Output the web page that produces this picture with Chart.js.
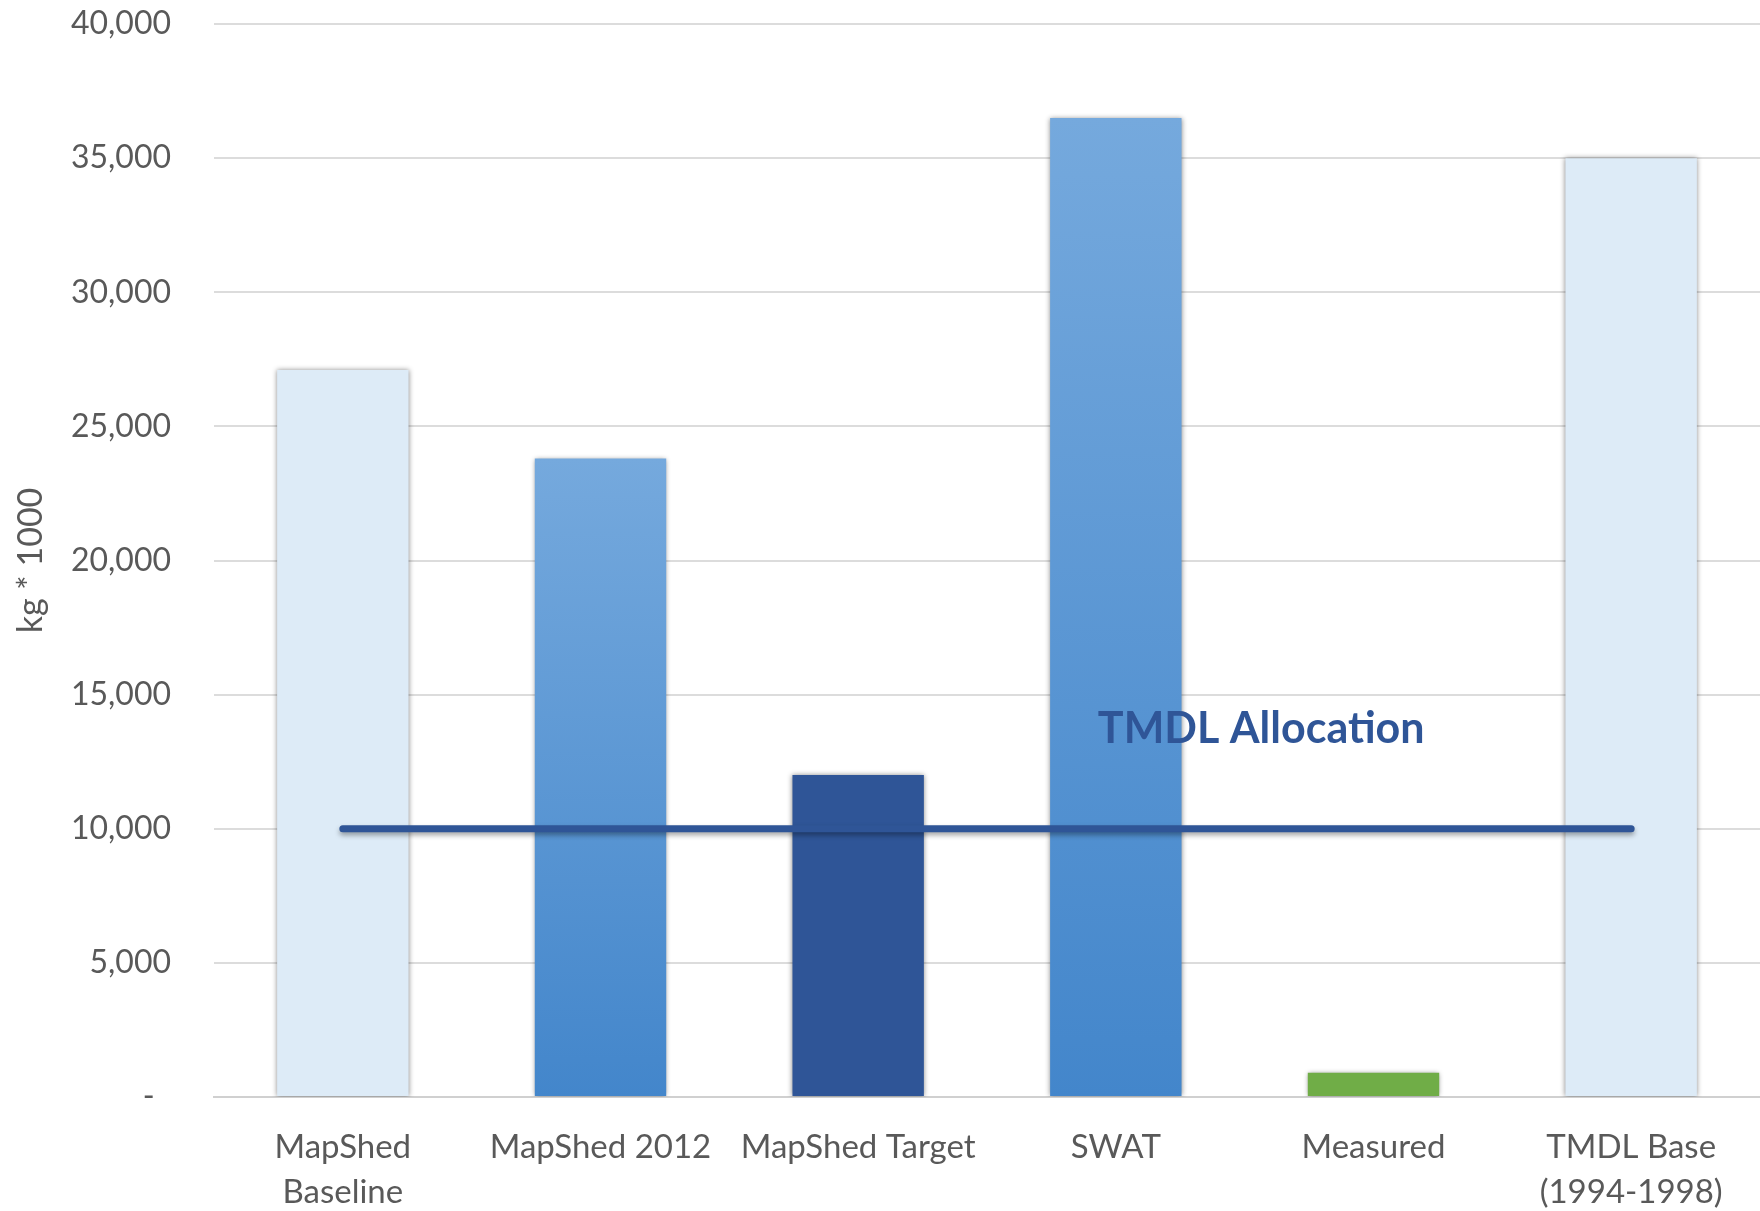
<!DOCTYPE html>
<html>
<head>
<meta charset="utf-8">
<script src="https://cdn.jsdelivr.net/npm/chart.js@4.4.1/dist/chart.umd.min.js"></script>
<style>
  html, body { margin: 0; padding: 0; background: #ffffff; }
  #wrap { width: 1760px; height: 1211px; }
</style>
</head>
<body>
<div id="wrap"><canvas id="chart" width="1760" height="1211"></canvas></div>
<script>
// Annual load per source (kg * 1000)
const categories = [
  ['MapShed', 'Baseline'],
  'MapShed 2012',
  'MapShed Target',
  'SWAT',
  'Measured',
  ['TMDL Base', '(1994-1998)']
];
const loads = [27100, 23800, 12000, 36500, 900, 35000];
const allocation = [10000, 10000, 10000, 10000, 10000, 10000];
const allocationLabel = 'TMDL Allocation';
const yTickValues = [0, 5000, 10000, 15000, 20000, 25000, 30000, 35000, 40000];

// Fill style per bar
const barFill = ['pale', 'gradient', 'navy', 'gradient', 'green', 'pale'];
const palette = {
  pale: '#DDEBF7',
  navy: '#2F5597',
  green: '#70AD47',
  gradTop: '#75A9DD',
  gradBottom: '#4386CB',
  line: '#2F5597',
  text: '#595959',
  grid: '#DCDCDC'
};

function barColor(ctx) {
  const kind = barFill[ctx.dataIndex];
  if (kind !== 'gradient') return palette[kind];
  const chart = ctx.chart;
  const y = chart.scales.y;
  if (!y || !chart.chartArea) return palette.gradBottom;
  const top = y.getPixelForValue(loads[ctx.dataIndex]);
  const bottom = y.getPixelForValue(0);
  const g = chart.ctx.createLinearGradient(0, top, 0, bottom);
  g.addColorStop(0, palette.gradTop);
  g.addColorStop(1, palette.gradBottom);
  return g;
}

// Soft drop shadow under bars and the allocation line
const shadowPlugin = {
  id: 'softShadow',
  beforeDatasetDraw(chart, args) {
    const ctx = chart.ctx;
    ctx.save();
    if (chart.data.datasets[args.index].type === 'line') {
      ctx.shadowColor = 'rgba(0,0,0,0.35)';
      ctx.shadowBlur = 5;
      ctx.shadowOffsetY = 3;
    } else {
      ctx.shadowColor = 'rgba(0,0,0,0.45)';
      ctx.shadowBlur = 5;
    }
  },
  afterDatasetDraw(chart) {
    chart.ctx.restore();
  }
};

// Caption for the allocation line
const captionPlugin = {
  id: 'allocationCaption',
  afterDatasetsDraw(chart, args, opts) {
    const { ctx, scales: { x, y } } = chart;
    ctx.save();
    ctx.font = 'bold 43px Lato';
    ctx.fillStyle = palette.line;
    ctx.textAlign = 'left';
    ctx.textBaseline = 'middle';
    ctx.fillText(opts.text, x.getPixelForValue(opts.index) + opts.dx, y.getPixelForValue(opts.value));
    ctx.restore();
  }
};

function draw() {
  new Chart(document.getElementById('chart'), {
    data: {
      labels: categories,
      datasets: [
        {
          type: 'line',
          label: allocationLabel,
          data: allocation,
          borderColor: palette.line,
          borderWidth: 7,
          borderCapStyle: 'round',
          pointRadius: 0,
          fill: false,
          order: 0
        },
        {
          type: 'bar',
          label: 'Load',
          data: loads,
          backgroundColor: barColor,
          borderWidth: 0,
          categoryPercentage: 1,
          barPercentage: 0.51,
          order: 1
        }
      ]
    },
    plugins: [shadowPlugin, captionPlugin],
    options: {
      responsive: false,
      animation: false,
      devicePixelRatio: 1,
      layout: { padding: { top: 24, right: 0, bottom: 0, left: 0 } },
      plugins: {
        legend: { display: false },
        tooltip: { enabled: false },
        allocationCaption: { text: allocationLabel, index: 3, value: 13700, dx: -18 }
      },
      scales: {
        x: {
          grid: { display: false, drawTicks: false },
          border: { display: true, color: '#D0D0D0', width: 2 },
          ticks: {
            color: palette.text,
            font: { family: 'Lato', size: 33, lineHeight: 1.36 },
            padding: 28,
            maxRotation: 0,
            autoSkip: false
          },
          afterFit(scale) { scale.height = 114; }
        },
        y: {
          min: 0,
          max: 40000,
          afterBuildTicks(scale) { scale.ticks = yTickValues.map(v => ({ value: v })); },
          grid: { color: palette.grid, lineWidth: 2, drawTicks: false },
          border: { display: false },
          ticks: {
            color: palette.text,
            font: { family: 'Lato', size: 32 },
            padding: 43,
            callback: v => v === 0 ? '-  ' : v.toLocaleString('en-US')
          },
          title: {
            display: true,
            text: 'kg * 1000',
            color: palette.text,
            font: { family: 'Lato', size: 34 },
            padding: { top: 11, bottom: 0 }
          },
          afterFit(scale) {
            scale.width = 214;
            scale.paddingTop = 0;
            scale.paddingBottom = 0;
          }
        }
      }
    }
  });
}

Promise.all([
  document.fonts.load('32px Lato'),
  document.fonts.load('bold 43px Lato')
]).then(draw, draw);
</script>
</body>
</html>
